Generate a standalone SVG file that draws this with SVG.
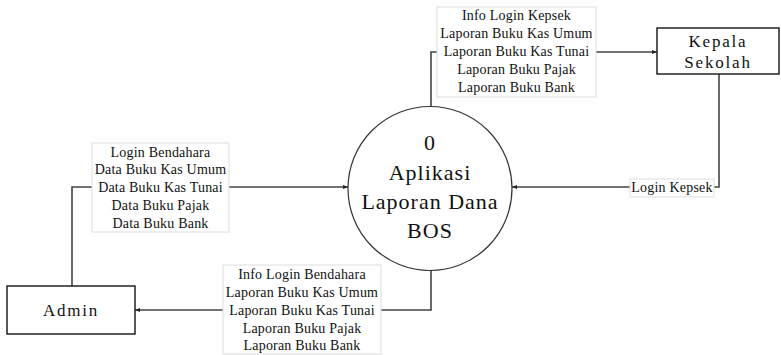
<svg xmlns="http://www.w3.org/2000/svg" width="781" height="355" viewBox="0 0 781 355">
  <style>
    .entity { fill: #ffffff; stroke: #222222; stroke-width: 1.5; }
    .process { fill: #ffffff; stroke: #333333; stroke-width: 1.2; }
    .flow { fill: none; stroke: #444444; stroke-width: 1.6; }
    .lbox { fill: #ffffff; stroke: #dddddd; stroke-width: 1; }
    .lbl { font-family: "Liberation Serif", "Times New Roman", serif; font-size: 14px; letter-spacing: 0.2px; fill: #111111; text-anchor: middle; }
    .big { font-family: "Liberation Serif", "Times New Roman", serif; font-size: 17px; fill: #111111; text-anchor: middle; letter-spacing: 1.8px; }
    .proc { font-family: "Liberation Serif", "Times New Roman", serif; font-size: 22px; fill: #111111; text-anchor: middle; letter-spacing: 1px; }
  </style>
  <defs>
    <marker id="arrow" viewBox="0 0 10 10" refX="10" refY="5" markerWidth="5" markerHeight="5" orient="auto" markerUnits="userSpaceOnUse">
      <path d="M0,1 L10,5 L0,9 z" fill="#222222"/>
    </marker>
  </defs>
  <rect width="781" height="355" fill="#ffffff"/>

  <!-- connectors -->
  <g id="connectors">
    <!-- Admin -> process -->
    <path class="flow" d="M72,286 V187 H92"/>
    <path class="flow" d="M229,187 H348" marker-end="url(#arrow)"/>
    <!-- process -> Admin -->
    <path class="flow" d="M431,270 V310 H381"/>
    <path class="flow" d="M223,310 H135" marker-end="url(#arrow)"/>
    <!-- process -> Kepala Sekolah -->
    <path class="flow" d="M431,107 V52 H437"/>
    <path class="flow" d="M596,52 H657" marker-end="url(#arrow)"/>
    <!-- Kepala Sekolah -> process -->
    <path class="flow" d="M719,74 V187 H714"/>
    <path class="flow" d="M630,187 H512" marker-end="url(#arrow)"/>

    <!-- flow labels -->
    <g id="label-admin-in">
      <rect class="lbox" x="92" y="143" width="137" height="89"/>
      <text class="lbl" x="160.5" y="157">Login Bendahara</text>
      <text class="lbl" x="160.5" y="174">Data Buku Kas Umum</text>
      <text class="lbl" x="160.5" y="192">Data Buku Kas Tunai</text>
      <text class="lbl" x="160.5" y="210">Data Buku Pajak</text>
      <text class="lbl" x="160.5" y="228">Data Buku Bank</text>
    </g>
    <g id="label-admin-out">
      <rect class="lbox" x="223" y="265" width="158" height="89"/>
      <text class="lbl" x="302" y="279">Info Login Bendahara</text>
      <text class="lbl" x="302" y="297">Laporan Buku Kas Umum</text>
      <text class="lbl" x="302" y="315">Laporan Buku Kas Tunai</text>
      <text class="lbl" x="302" y="333">Laporan Buku Pajak</text>
      <text class="lbl" x="302" y="350">Laporan Buku Bank</text>
    </g>
    <g id="label-kepsek-out">
      <rect class="lbox" x="437" y="7" width="159" height="90"/>
      <text class="lbl" x="516.5" y="20">Info Login Kepsek</text>
      <text class="lbl" x="516.5" y="38">Laporan Buku Kas Umum</text>
      <text class="lbl" x="516.5" y="56">Laporan Buku Kas Tunai</text>
      <text class="lbl" x="516.5" y="74">Laporan Buku Pajak</text>
      <text class="lbl" x="516.5" y="92">Laporan Buku Bank</text>
    </g>
    <g id="label-kepsek-in">
      <rect class="lbox" x="630" y="179" width="84" height="18"/>
      <text class="lbl" x="672" y="192">Login Kepsek</text>
    </g>
  </g>

  <!-- process -->
  <g id="process-0">
    <circle class="process" cx="430" cy="188.5" r="82"/>
    <text class="proc" x="430" y="150">0</text>
    <text class="proc" x="430" y="180">Aplikasi</text>
    <text class="proc" x="430" y="209">Laporan Dana</text>
    <text class="proc" x="430" y="238">BOS</text>
  </g>

  <!-- external entities -->
  <g id="admin">
    <rect class="entity" x="7" y="286" width="128" height="48"/>
    <text class="big" x="71" y="316">Admin</text>
  </g>
  <g id="kepala-sekolah">
    <rect class="entity" x="657" y="28" width="122" height="46"/>
    <text class="big" x="718" y="47">Kepala</text>
    <text class="big" x="718" y="68">Sekolah</text>
  </g>
</svg>
